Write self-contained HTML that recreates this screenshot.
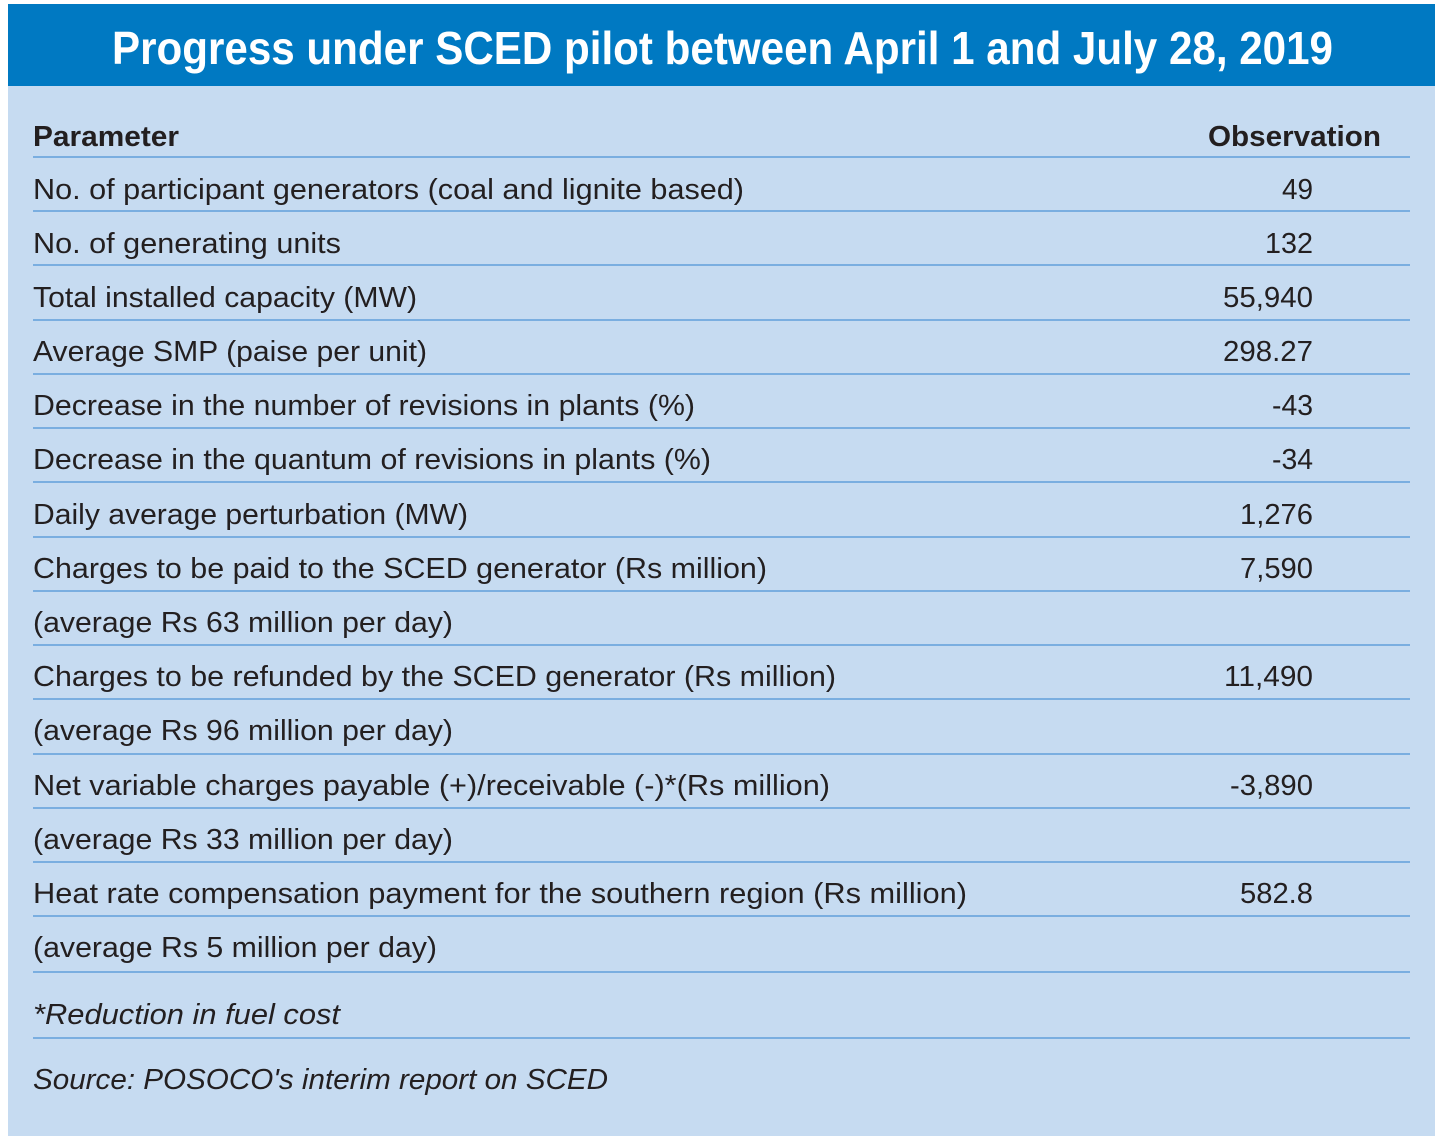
<!DOCTYPE html>
<html><head><meta charset="utf-8"><style>
html,body{margin:0;padding:0;background:#fff;}
svg{display:block}
text{font-family:"Liberation Sans",Arial,sans-serif;fill:#231f20}
</style></head><body>
<svg width="1442" height="1136" viewBox="0 0 1442 1136" xmlns="http://www.w3.org/2000/svg">
<rect x="8" y="4" width="1427" height="1132" fill="#c6dbf1"/>
<rect x="8" y="4" width="1427" height="82" fill="#0079c2"/>
<text x="112" y="64" font-size="46" font-weight="bold" style="fill:#fff" textLength="1221" lengthAdjust="spacingAndGlyphs">Progress under SCED pilot between April 1 and July 28, 2019</text>
<g stroke="#7aaee0" stroke-width="2">
<line x1="33" x2="1410" y1="157" y2="157"/><line x1="33" x2="1410" y1="211" y2="211"/>
<line x1="33" x2="1410" y1="265" y2="265"/><line x1="33" x2="1410" y1="320" y2="320"/>
<line x1="33" x2="1410" y1="374" y2="374"/><line x1="33" x2="1410" y1="428" y2="428"/>
<line x1="33" x2="1410" y1="482" y2="482"/><line x1="33" x2="1410" y1="537" y2="537"/>
<line x1="33" x2="1410" y1="591" y2="591"/><line x1="33" x2="1410" y1="645" y2="645"/>
<line x1="33" x2="1410" y1="699" y2="699"/><line x1="33" x2="1410" y1="754" y2="754"/>
<line x1="33" x2="1410" y1="808" y2="808"/><line x1="33" x2="1410" y1="862" y2="862"/>
<line x1="33" x2="1410" y1="916" y2="916"/><line x1="33" x2="1410" y1="972" y2="972"/>
<line x1="33" x2="1410" y1="1038" y2="1038"/>
</g>
<g font-size="29">
<text x="33" y="146" font-weight="bold" textLength="146" lengthAdjust="spacingAndGlyphs">Parameter</text>
<text x="1381" y="146" font-weight="bold" text-anchor="end" textLength="173" lengthAdjust="spacingAndGlyphs">Observation</text>
<text x="33" y="199" textLength="711" lengthAdjust="spacingAndGlyphs">No. of participant generators (coal and lignite based)</text>
<text x="33" y="253" textLength="308" lengthAdjust="spacingAndGlyphs">No. of generating units</text>
<text x="33" y="307" textLength="384" lengthAdjust="spacingAndGlyphs">Total installed capacity (MW)</text>
<text x="33" y="361" textLength="394" lengthAdjust="spacingAndGlyphs">Average SMP (paise per unit)</text>
<text x="33" y="415" textLength="662" lengthAdjust="spacingAndGlyphs">Decrease in the number of revisions in plants (%)</text>
<text x="33" y="469" textLength="678" lengthAdjust="spacingAndGlyphs">Decrease in the quantum of revisions in plants (%)</text>
<text x="33" y="524" textLength="435" lengthAdjust="spacingAndGlyphs">Daily average perturbation (MW)</text>
<text x="33" y="578" textLength="734" lengthAdjust="spacingAndGlyphs">Charges to be paid to the SCED generator (Rs million)</text>
<text x="33" y="632" textLength="420" lengthAdjust="spacingAndGlyphs">(average Rs 63 million per day)</text>
<text x="33" y="686" textLength="803" lengthAdjust="spacingAndGlyphs">Charges to be refunded by the SCED generator (Rs million)</text>
<text x="33" y="740" textLength="420" lengthAdjust="spacingAndGlyphs">(average Rs 96 million per day)</text>
<text x="33" y="795" textLength="797" lengthAdjust="spacingAndGlyphs">Net variable charges payable (+)/receivable (-)*(Rs million)</text>
<text x="33" y="849" textLength="420" lengthAdjust="spacingAndGlyphs">(average Rs 33 million per day)</text>
<text x="33" y="903" textLength="934" lengthAdjust="spacingAndGlyphs">Heat rate compensation payment  for the southern region (Rs million)</text>
<text x="33" y="957" textLength="404" lengthAdjust="spacingAndGlyphs">(average Rs 5 million per day)</text>
<text x="33" y="1024" font-style="italic" textLength="307" lengthAdjust="spacingAndGlyphs">*Reduction in fuel cost</text>
<text x="33" y="1089" font-style="italic" textLength="575" lengthAdjust="spacingAndGlyphs">Source: POSOCO's interim report on SCED</text>
</g>
<g font-size="29" text-anchor="end">
<text x="1313" y="199" textLength="31" lengthAdjust="spacingAndGlyphs">49</text>
<text x="1313" y="253" textLength="48" lengthAdjust="spacingAndGlyphs">132</text>
<text x="1313" y="307" textLength="90" lengthAdjust="spacingAndGlyphs">55,940</text>
<text x="1313" y="361" textLength="90" lengthAdjust="spacingAndGlyphs">298.27</text>
<text x="1313" y="415" textLength="41" lengthAdjust="spacingAndGlyphs">-43</text>
<text x="1313" y="469" textLength="41" lengthAdjust="spacingAndGlyphs">-34</text>
<text x="1313" y="524" textLength="73" lengthAdjust="spacingAndGlyphs">1,276</text>
<text x="1313" y="578" textLength="73" lengthAdjust="spacingAndGlyphs">7,590</text>
<text x="1313" y="686" textLength="89" lengthAdjust="spacingAndGlyphs">11,490</text>
<text x="1313" y="795" textLength="83" lengthAdjust="spacingAndGlyphs">-3,890</text>
<text x="1313" y="903" textLength="73" lengthAdjust="spacingAndGlyphs">582.8</text>
</g>
</svg>
</body></html>
